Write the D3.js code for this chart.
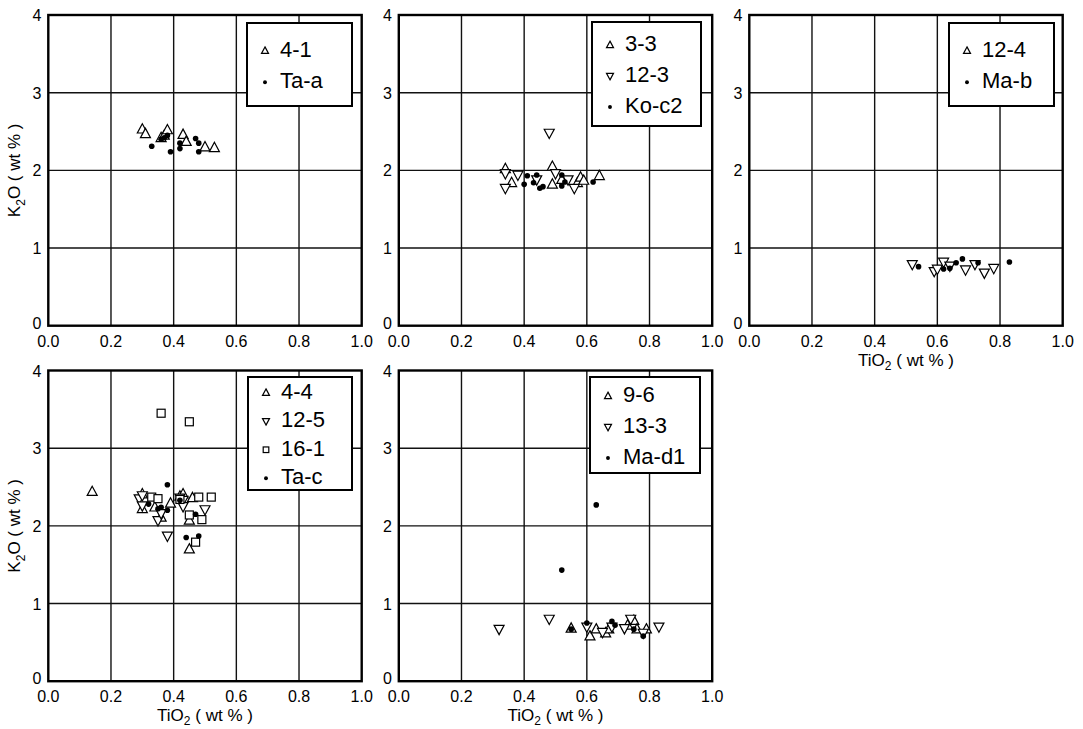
<!DOCTYPE html>
<html>
<head>
<meta charset="utf-8">
<script src="https://cdn.jsdelivr.net/npm/d3@7"></script>
<style>
  body { margin: 0; background: #fff; }
  svg text { font-family: "Liberation Sans", Arial, sans-serif; fill: #000; }
</style>
</head>
<body>
<div id="chart"></div>
<script>
// TiO2 vs K2O, five sample panels

var xTicks = [0, 0.2, 0.4, 0.6, 0.8, 1.0];
var yTicks = [0, 1, 2, 3, 4];

// panel 1
var s4_1 = [[0.30,2.53],[0.31,2.47],[0.36,2.42],[0.37,2.45],[0.38,2.52],[0.43,2.46],[0.44,2.37],[0.50,2.30],[0.53,2.29]];
var sTa_a = [[0.33,2.31],[0.36,2.40],[0.37,2.42],[0.38,2.45],[0.39,2.24],[0.42,2.28],[0.42,2.35],[0.47,2.41],[0.48,2.35],[0.48,2.24]];
// panel 2
var s3_3 = [[0.34,2.02],[0.36,1.84],[0.49,2.05],[0.49,1.82],[0.52,1.88],[0.57,1.84],[0.58,1.91],[0.59,1.87],[0.64,1.93]];
var s12_3 = [[0.34,1.96],[0.34,1.77],[0.38,1.94],[0.44,1.88],[0.48,2.48],[0.50,1.96],[0.54,1.88],[0.56,1.77]];
var sKo_c2 = [[0.40,1.82],[0.41,1.93],[0.43,1.84],[0.44,1.94],[0.45,1.77],[0.46,1.79],[0.52,1.94],[0.52,1.80],[0.53,1.85],[0.62,1.85]];
// panel 3
var s12_4 = [[0.52,0.79],[0.59,0.70],[0.60,0.73],[0.62,0.82],[0.64,0.77],[0.69,0.72],[0.72,0.79],[0.75,0.68],[0.78,0.74]];
var sMa_b = [[0.54,0.76],[0.62,0.73],[0.64,0.74],[0.66,0.81],[0.68,0.86],[0.73,0.81],[0.83,0.82]];
// panel 4
var s4_4 = [[0.14,2.44],[0.30,2.41],[0.30,2.22],[0.34,2.24],[0.36,2.11],[0.39,2.29],[0.42,2.38],[0.43,2.41],[0.46,2.36],[0.45,2.07],[0.45,1.70]];
var s12_5 = [[0.29,2.35],[0.30,2.39],[0.30,2.26],[0.35,2.07],[0.36,2.16],[0.38,1.87],[0.42,2.36],[0.43,2.33],[0.43,2.25],[0.50,2.21]];
var s16_1 = [[0.33,2.37],[0.35,2.35],[0.36,3.45],[0.42,2.34],[0.45,3.34],[0.45,2.14],[0.47,1.79],[0.48,2.37],[0.49,2.08],[0.52,2.37]];
var sTa_c = [[0.32,2.28],[0.35,2.22],[0.36,2.24],[0.38,2.53],[0.38,2.20],[0.42,2.33],[0.44,1.85],[0.47,2.15],[0.48,1.87]];
// panel 5
var s9_6 = [[0.55,0.68],[0.61,0.58],[0.63,0.67],[0.66,0.62],[0.67,0.67],[0.73,0.72],[0.75,0.78],[0.76,0.67],[0.79,0.67]];
var s13_3 = [[0.32,0.67],[0.48,0.80],[0.60,0.70],[0.65,0.63],[0.68,0.70],[0.72,0.68],[0.74,0.80],[0.78,0.62],[0.83,0.70]];
var sMa_d1 = [[0.52,1.43],[0.55,0.67],[0.60,0.75],[0.63,2.27],[0.68,0.77],[0.69,0.72],[0.75,0.67],[0.78,0.58]];

var panels = [
  { left: 48.3, top: 15, yTitle: true, xTitle: false,
    legend: { x: 247, y: 23, w: 105, h: 83, step: 31.5 },
    series: [{ name: "4-1", shape: "up", data: s4_1 }, { name: "Ta-a", shape: "dot", data: sTa_a }] },
  { left: 398.8, top: 15, yTitle: false, xTitle: false,
    legend: { x: 592, y: 22, w: 109, h: 104, step: 31 },
    series: [{ name: "3-3", shape: "up", data: s3_3 }, { name: "12-3", shape: "down", data: s12_3 }, { name: "Ko-c2", shape: "dot", data: sKo_c2 }] },
  { left: 749.3, top: 15, yTitle: false, xTitle: true,
    legend: { x: 949, y: 23, w: 105, h: 83, step: 31.5 },
    series: [{ name: "12-4", shape: "down", legendShape: "up", data: s12_4 }, { name: "Ma-b", shape: "dot", data: sMa_b }] },
  { left: 48.3, top: 370.5, yTitle: true, xTitle: true,
    legend: { x: 248, y: 377, w: 104, h: 113, step: 28.5 },
    series: [{ name: "4-4", shape: "up", data: s4_4 }, { name: "12-5", shape: "down", data: s12_5 }, { name: "16-1", shape: "square", data: s16_1 }, { name: "Ta-c", shape: "dot", data: sTa_c }] },
  { left: 398.8, top: 370.5, yTitle: false, xTitle: true,
    legend: { x: 590, y: 377, w: 110, h: 96, step: 31 },
    series: [{ name: "9-6", shape: "up", data: s9_6 }, { name: "13-3", shape: "down", data: s13_3 }, { name: "Ma-d1", shape: "dot", data: sMa_d1 }] }
];

var W = 1083, H = 729;
var pw = 313.4, ph = 310.7;

var svg = d3.select("#chart").append("svg").attr("width", W).attr("height", H);

function drawShape(g, shape, s) {
  if (shape == "dot") {
    g.append("circle").attr("r", s * 0.28).attr("fill", "#000");
  } else if (shape == "square") {
    g.append("rect").attr("x", -s * 0.4).attr("y", -s * 0.4).attr("width", s * 0.8).attr("height", s * 0.8)
      .attr("fill", "#fff").attr("stroke", "#000").attr("stroke-width", 1.2);
  } else {
    var d = shape == "up" ? 1 : -1;
    var pts = [[0, -0.55 * s * d], [0.5 * s, 0.38 * s * d], [-0.5 * s, 0.38 * s * d]];
    g.append("path").attr("d", "M" + pts.join("L") + "Z")
      .attr("fill", "#fff").attr("stroke", "#000").attr("stroke-width", 1.2).attr("stroke-linejoin", "miter");
  }
}

panels.forEach(function(p) {
  var x = d3.scaleLinear().domain([0, 1]).range([p.left, p.left + pw]);
  var y = d3.scaleLinear().domain([0, 4]).range([p.top + ph, p.top]);
  var g = svg.append("g");

  // grid
  g.selectAll(".gx").data(xTicks.slice(1, -1)).enter().append("line")
    .attr("x1", x).attr("x2", x).attr("y1", p.top).attr("y2", p.top + ph)
    .attr("stroke", "#111").attr("stroke-width", 1.4);
  g.selectAll(".gy").data(yTicks.slice(1, -1)).enter().append("line")
    .attr("y1", y).attr("y2", y).attr("x1", p.left).attr("x2", p.left + pw)
    .attr("stroke", "#111").attr("stroke-width", 1.4);

  // tick labels
  g.selectAll(".tx").data(xTicks).enter().append("text")
    .attr("x", x).attr("y", p.top + ph + 21).attr("text-anchor", "middle")
    .style("font-size", "16px").text(d3.format(".1f"));
  g.selectAll(".ty").data(yTicks).enter().append("text")
    .attr("x", p.left - 7).attr("y", function(d) { return y(d) + (d == 0 ? 3 : 6); }).attr("text-anchor", "end")
    .style("font-size", "16px").text(function(d) { return d; });

  // points
  p.series.forEach(function(s) {
    if (s.shape == "dot") return;
    s.data.forEach(function(d) {
      var m = g.append("g").attr("transform", "translate(" + x(d[0]) + "," + y(d[1]) + ")");
      drawShape(m, s.shape, 10);
    });
  });
  p.series.forEach(function(s) {
    if (s.shape != "dot") return;
    s.data.forEach(function(d) {
      var m = g.append("g").attr("transform", "translate(" + x(d[0]) + "," + y(d[1]) + ")");
      drawShape(m, s.shape, 10);
    });
  });

  // frame
  g.append("rect").attr("x", p.left).attr("y", p.top).attr("width", pw).attr("height", ph)
    .attr("fill", "none").attr("stroke", "#000").attr("stroke-width", 2.4);

  // legend
  var L = p.legend;
  g.append("rect").attr("x", L.x).attr("y", L.y).attr("width", L.w).attr("height", L.h)
    .attr("fill", "#fff").attr("stroke", "#000").attr("stroke-width", 2);
  var n = p.series.length;
  var cy0 = L.y + (L.h - L.step * (n - 1)) / 2;
  p.series.forEach(function(s, i) {
    var cy = cy0 + i * L.step;
    var m = g.append("g").attr("transform", "translate(" + (L.x + 18) + "," + (cy + 2) + ")");
    drawShape(m, s.legendShape || s.shape, 7);
    g.append("text").attr("x", L.x + 33).attr("y", cy + 8)
      .style("font-size", "22px").text(s.name);
  });

  // axis titles
  if (p.yTitle) {
    var t = g.append("text").attr("transform", "translate(" + (p.left - 28) + "," + (p.top + ph / 2) + ") rotate(-90)")
      .attr("text-anchor", "middle").style("font-size", "17px");
    t.append("tspan").text("K");
    t.append("tspan").attr("dy", 5).style("font-size", "12px").text("2");
    t.append("tspan").attr("dy", -5).text("O ( wt % )");
  }
  if (p.xTitle) {
    var tx = g.append("text").attr("x", p.left + pw / 2).attr("y", p.top + ph + 40)
      .attr("text-anchor", "middle").style("font-size", "17px");
    tx.append("tspan").text("TiO");
    tx.append("tspan").attr("dy", 4).style("font-size", "12px").text("2");
    tx.append("tspan").attr("dy", -4).text(" ( wt % )");
  }
});
</script>
</body>
</html>
